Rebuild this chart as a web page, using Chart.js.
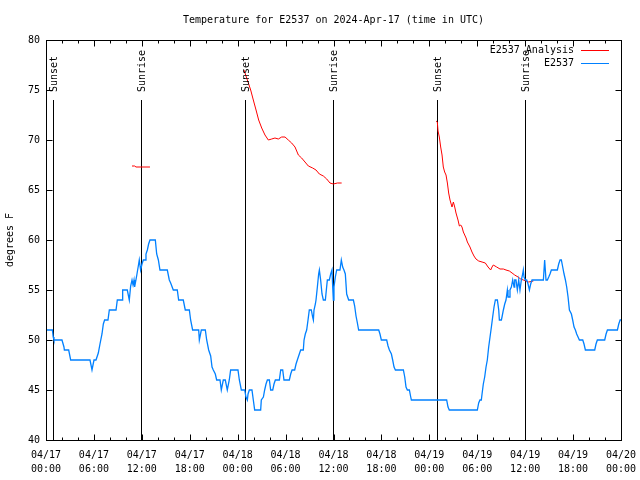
<!DOCTYPE html>
<html>
<head>
<meta charset="utf-8">
<script src="https://cdn.jsdelivr.net/npm/chart.js@4"></script>
<style>
    html, body { margin: 0; padding: 0; background: #fff; }
</style>
</head>
<body>
<canvas id="grafico" width="640" height="480"></canvas>
<script>
// hours since 04/17 00:00 UTC
const obsHours = [0, 0.8, 0.9, 1.0, 2.0, 2.25, 2.3, 2.84, 3.09, 5.51, 5.76, 6.01, 6.26, 6.55, 6.76, 7.01, 7.18, 7.34, 7.76, 7.93,
    8.77, 8.93, 9.52, 9.6, 10.18, 10.43, 10.6, 10.77, 10.9, 11.02, 11.1, 11.35, 11.6, 11.68, 11.85, 12.02, 12.19, 12.44, 12.52, 12.69,
    12.85, 13.02, 13.69, 13.86, 14.07, 14.27, 15.19, 15.44, 15.61, 15.94, 16.44, 16.61, 17.19, 17.44, 17.95, 18.11, 18.36, 19.12, 19.2, 19.45,
    19.95, 20.12, 20.37, 20.62, 20.79, 20.95, 21.2, 21.37, 21.79, 21.95, 22.2, 22.45, 22.7, 22.95, 23.12, 24.04, 24.21, 24.46, 24.88, 25.04,
    25.21, 25.3, 25.46, 25.79, 25.96, 26.13, 26.88, 26.96, 27.22, 27.38, 27.55, 27.72, 27.97, 28.13, 28.39, 28.55, 28.72, 29.22, 29.39, 29.64,
    29.8, 30.47, 30.64, 30.81, 31.14, 31.31, 31.47, 31.72, 31.89, 32.22, 32.31, 32.47, 32.64, 32.81, 32.97, 33.22, 33.39, 33.48, 33.56, 33.73,
    33.81, 33.98, 34.14, 34.23, 34.39, 34.56, 34.73, 34.98, 35.14, 35.23, 35.48, 35.65, 35.81, 35.9, 35.98, 36.06, 36.23, 36.4, 36.81, 36.98,
    37.15, 37.31, 37.48, 37.65, 37.9, 38.49, 38.65, 38.82, 38.99, 39.15, 41.66, 41.82, 41.99, 42.66, 42.83, 43.0, 43.25, 43.41, 43.58, 43.75,
    44.75, 44.92, 45.08, 45.25, 45.5, 45.67, 45.75, 50.17, 50.34, 50.5, 54.01, 54.18, 54.34, 54.51, 54.6, 54.76, 54.93, 55.1, 55.26, 55.43,
    55.6, 55.77, 55.93, 56.1, 56.27, 56.52, 56.69, 56.77, 57.02, 57.1, 57.27, 57.44, 57.6, 57.77, 57.85, 58.02, 58.1, 58.27, 58.44, 58.61,
    58.69, 58.85, 59.02, 59.19, 59.35, 59.52, 59.69, 59.77, 59.86, 60.02, 60.19, 60.36, 60.53, 60.69, 60.86, 62.28, 62.44, 62.61, 62.78, 62.95,
    63.11, 63.28, 64.03, 64.2, 64.37, 64.53, 64.7, 64.87, 65.04, 65.2, 65.37, 65.54, 65.79, 65.95, 66.12, 66.29, 66.45, 66.62, 66.79, 67.21,
    67.37, 67.54, 68.71, 68.87, 69.04, 69.96, 70.13, 70.3, 71.55, 71.72, 71.89, 72];
const obsTemps = [51, 51, 50.3, 50, 50, 49.3, 49, 49, 48, 48, 47, 48, 48, 48.7, 49.6, 50.6, 51.6, 52, 52, 53,
    53, 54, 54, 55, 55, 54, 55.4, 56, 55.5, 56, 55.3, 56.4, 57.6, 58, 57, 57.6, 58, 58, 58.6, 59,
    59.6, 60, 60, 58.6, 58, 57, 57, 56, 55.7, 55, 55, 54, 54, 53, 53, 52, 51, 51, 50, 51,
    51, 50, 49, 48.4, 47.3, 47, 46.6, 46, 46, 45, 46, 46, 45, 46, 47, 47, 46, 45, 45, 44.3,
    44, 44.6, 45, 45, 44, 43, 43, 44, 44.3, 45, 45.6, 46, 46, 45, 45, 45.6, 46, 46, 47, 47,
    46, 46, 46.6, 47, 47, 47.6, 48, 48.6, 49, 49, 50, 50.6, 51, 52, 53, 53, 52.3, 52, 53, 53.6,
    54, 55.3, 56.6, 57, 56, 54.6, 54, 54, 55.3, 56, 56, 56.6, 57, 55.3, 54, 55.3, 56.3, 57, 57, 58,
    57.3, 57, 56.6, 54.6, 54, 54, 53.4, 52.4, 51.7, 51, 51, 50.6, 50, 50, 49.4, 49, 48.6, 48, 47.3, 47,
    47, 46.3, 45.3, 45, 45, 44.3, 44, 44, 43.3, 43, 43, 43.7, 44, 44, 44.6, 45.6, 46.3, 47.3, 48, 49.3,
    50.3, 51.3, 52.3, 53.3, 54, 54, 53, 52, 52, 52.3, 53, 53.6, 54, 55, 54.3, 54.3, 55, 55.3, 56, 55.3,
    56, 56, 55, 56, 55, 56, 56.6, 57, 56.3, 56, 56, 55.6, 55, 55.6, 56, 56, 58, 56, 56, 56.3,
    56.6, 57, 57, 57.6, 58, 58, 57.3, 56.6, 56, 55.3, 54.3, 53, 52.6, 52, 51.3, 51, 50.6, 50.3, 50, 50,
    49.6, 49, 49, 49.6, 50, 50, 50.6, 51, 51, 51.6, 52, 52];

// analysis runs, null = break between runs
const anaHours = [10.77, 11.1, 11.27, 13.02, null,
    24.79, 25.34, 25.63, 25.96, 26.3, 26.63, 27.01, 27.42, 27.84, 28.26, 28.67, 29.09, 29.51, 29.93, 30.34,
    30.76, 31.18, 31.6, 32.01, 32.43, 32.85, 33.39, 33.81, 34.23, 34.73, 35.15, 35.56, 35.98, 36.48, 37.02, null,
    48.84, 49.0, 49.09, 49.25, 49.42, 49.59, 49.75, 49.92, 50.09, 50.26, 50.42, 50.59, 50.84, 51.01, 51.18, 51.34,
    51.59, 51.76, 51.93, 52.09, 52.26, 52.6, 52.76, 53.09, 53.34, 53.59, 53.84, 54.18, 54.6, 55.01, 55.35, 55.68,
    55.85, 56.01, 56.43, 56.85, 57.27, 57.6, 58.02, 58.36, 58.69, 59.11, 59.44, 59.77, 60.11, 60.44, 61.03];
const anaTemps = [67.4, 67.4, 67.3, 67.3, null,
    77, 75.7, 75, 74, 73, 72, 71.2, 70.5, 70, 70.1, 70.2, 70.1, 70.3, 70.3, 70,
    69.7, 69.3, 68.5, 68.2, 67.8, 67.4, 67.2, 67, 66.6, 66.4, 66.1, 65.7, 65.6, 65.7, 65.7, null,
    71.9, 71.8, 70.9, 70.3, 69.3, 68.5, 67.3, 66.8, 66.5, 65.7, 64.7, 64, 63.3, 63.8, 63.3, 62.7,
    62, 61.4, 61.5, 61.3, 60.8, 60.2, 59.8, 59.3, 58.8, 58.4, 58.1, 57.9, 57.8, 57.7, 57.3, 57,
    57.3, 57.5, 57.3, 57.1, 57.1, 57, 56.9, 56.7, 56.5, 56.3, 56.1, 56, 55.9, 55.8, 55.9];

const sunHours = [0.88, 11.9, 24.96, 35.98, 49.0, 60.0];
const sunLabels = ["Sunset", "Sunrise", "Sunset", "Sunrise", "Sunset", "Sunrise"];

const xTickLabels = [
    ["04/17", "00:00"], ["04/17", "06:00"], ["04/17", "12:00"], ["04/17", "18:00"],
    ["04/18", "00:00"], ["04/18", "06:00"], ["04/18", "12:00"], ["04/18", "18:00"],
    ["04/19", "00:00"], ["04/19", "06:00"], ["04/19", "12:00"], ["04/19", "18:00"],
    ["04/20", "00:00"]
];

const titulo = "Temperature for E2537 on 2024-Apr-17 (time in UTC)";
const FUENTE = "10px 'DejaVu Sans Mono'";

Chart.defaults.font.family = "'DejaVu Sans Mono', monospace";
Chart.defaults.font.size = 10;
Chart.defaults.color = "#000";

// marco, marcas, lineas de sol, leyenda y titulos al estilo gnuplot
const estiloGnuplot = {
    id: "estiloGnuplot",
    beforeDatasetsDraw(chart) {
        const { ctx, chartArea, scales } = chart;
        ctx.save();
        ctx.strokeStyle = "#000";
        ctx.lineWidth = 1;
        const yTop = scales.y.getPixelForValue(74);
        sunHours.forEach(h => {
            const x = Math.round(scales.x.getPixelForValue(h)) + 0.5;
            ctx.beginPath();
            ctx.moveTo(x, yTop);
            ctx.lineTo(x, chartArea.bottom);
            ctx.stroke();
        });
        ctx.restore();
    },
    afterDatasetsDraw(chart) {
        const { ctx, chartArea, scales } = chart;
        const L = chartArea.left + 0.5, R = chartArea.right + 0.5;
        const T = chartArea.top + 0.5, B = chartArea.bottom + 0.5;
        ctx.save();
        ctx.strokeStyle = "#000";
        ctx.lineWidth = 1;
        ctx.strokeRect(L, T, R - L, B - T);

        ctx.beginPath();
        for (let v = 0; v <= 72; v += 2) {
            const x = Math.round(scales.x.getPixelForValue(v)) + 0.5;
            const len = v % 6 === 0 ? 6 : 3;
            ctx.moveTo(x, B); ctx.lineTo(x, B - len);
            ctx.moveTo(x, T); ctx.lineTo(x, T + len);
        }
        for (let v = 40; v <= 80; v += 5) {
            const y = Math.round(scales.y.getPixelForValue(v)) + 0.5;
            ctx.moveTo(L, y); ctx.lineTo(L + 6, y);
            ctx.moveTo(R, y); ctx.lineTo(R - 6, y);
        }
        ctx.stroke();

        ctx.fillStyle = "#000";
        ctx.font = FUENTE;
        // etiquetas Sunset / Sunrise
        sunHours.forEach((h, i) => {
            const x = Math.round(scales.x.getPixelForValue(h)) + 1;
            ctx.save();
            ctx.translate(x, 92);
            ctx.rotate(-Math.PI / 2);
            ctx.textAlign = "left";
            ctx.textBaseline = "middle";
            ctx.fillText(sunLabels[i], 0, 0);
            ctx.restore();
        });

        // leyenda
        const leyenda = [
            { texto: "E2537 Analysis", color: "#ff0000", y: 50 },
            { texto: "E2537", color: "#0080ff", y: 63 }
        ];
        ctx.textAlign = "right";
        ctx.textBaseline = "middle";
        leyenda.forEach(item => {
            ctx.fillStyle = "#000";
            ctx.fillText(item.texto, 574, item.y);
            ctx.strokeStyle = item.color;
            ctx.beginPath();
            ctx.moveTo(581, item.y + 0.5);
            ctx.lineTo(609, item.y + 0.5);
            ctx.stroke();
        });

        // titulo
        ctx.fillStyle = "#000";
        ctx.textAlign = "center";
        ctx.fillText(titulo, (chartArea.left + chartArea.right) / 2, 20);

        // titulo eje y
        ctx.save();
        ctx.translate(10, (chartArea.top + chartArea.bottom) / 2);
        ctx.rotate(-Math.PI / 2);
        ctx.textAlign = "center";
        ctx.textBaseline = "middle";
        ctx.fillText("degrees F", 0, 0);
        ctx.restore();
        ctx.restore();
    }
};

const ctx = document.getElementById("grafico").getContext("2d");
new Chart(ctx, {
    type: "line",
    data: {
        datasets: [
            {
                label: "E2537",
                data: obsHours.map((h, i) => ({ x: h, y: obsTemps[i] })),
                borderColor: "#0080ff",
                borderWidth: 1.3,
                pointRadius: 0,
                tension: 0
            },
            {
                label: "E2537 Analysis",
                data: anaHours.map((h, i) => ({ x: h, y: anaTemps[i] })),
                borderColor: "#ff0000",
                borderWidth: 1,
                pointRadius: 0,
                tension: 0,
                spanGaps: false
            }
        ]
    },
    options: {
        responsive: false,
        animation: false,
        events: [],
        layout: { padding: { top: 40, right: 19, left: 0, bottom: 0 } },
        plugins: {
            legend: { display: false },
            title: { display: false },
            tooltip: { enabled: false }
        },
        scales: {
            x: {
                type: "linear",
                min: 0,
                max: 72,
                grid: { display: false, drawTicks: false },
                border: { display: false },
                afterBuildTicks: s => {
                    s.ticks = [];
                    for (let v = 0; v <= 72; v += 2) s.ticks.push({ value: v });
                },
                afterFit: s => {
                    s.height = 40;
                    s.paddingLeft = 0;
                    s.paddingRight = 0;
                },
                ticks: {
                    autoSkip: false,
                    maxRotation: 0,
                    padding: 8,
                    font: { lineHeight: 1.4 },
                    callback: v => (v % 6 === 0 ? xTickLabels[v / 6] : "")
                }
            },
            y: {
                min: 40,
                max: 80,
                grid: { display: false, drawTicks: false },
                border: { display: false },
                afterFit: s => { s.width = 46; },
                ticks: { stepSize: 5, padding: 6 }
            }
        }
    },
    plugins: [estiloGnuplot]
});
</script>
</body>
</html>
